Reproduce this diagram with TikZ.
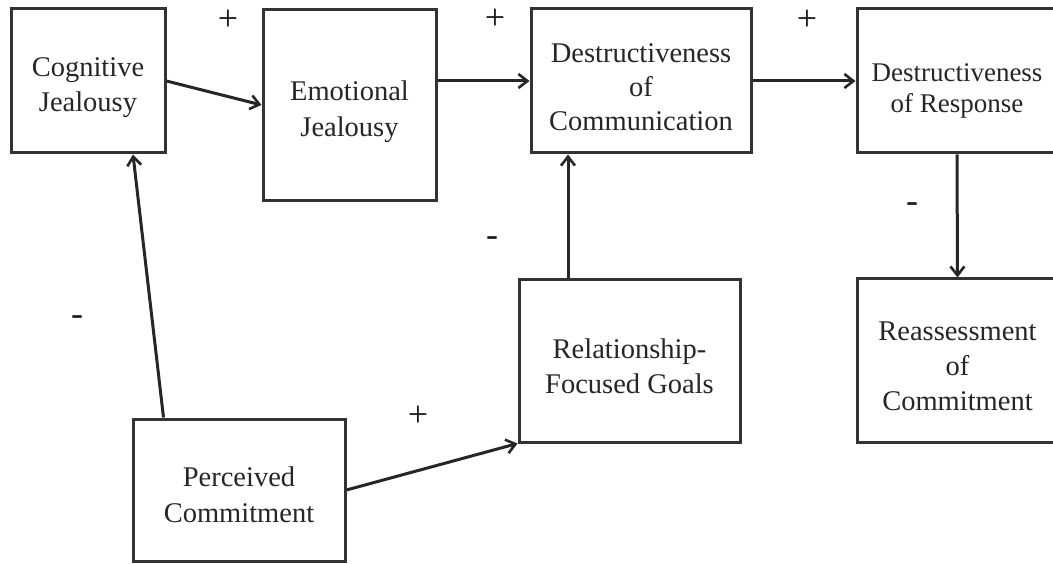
\documentclass[tikz,border=0pt]{standalone}
\usepackage{fontspec}
\setmainfont{Liberation Serif}
\usetikzlibrary{arrows.meta}
\newcommand{\tstrut}[1]{\rule{0pt}{#1}}
\begin{document}
\begin{tikzpicture}[x=1pt,y=-1pt,
  box/.style={draw=black!80,line width=3pt,rectangle,align=center,inner sep=0pt,
    font=\fontsize{28.5}{35}\selectfont,text=black!85},
  conn/.style={draw=black!85,line width=3pt,-{Straight Barb[length=9pt,width=14pt,line width=2.6pt]}},
  plus/.style={font=\fontsize{36}{36}\selectfont,text=black!90,inner sep=0pt},
  minus/.style={font=\fontsize{36}{36}\selectfont,text=black!90,inner sep=0pt}]
\useasboundingbox (0,0) rectangle (1053,564);
\begin{scope}
\clip (0,0) rectangle (1053,564);
\node[box,minimum width=154pt,minimum height=144pt] (cj) at (88,81) {\tstrut{33pt}Cognitive\\Jealousy};
\node[box,minimum width=173pt,minimum height=191pt,font=\fontsize{28.5}{36}\selectfont] (ej) at (349.5,105) {\tstrut{33pt}Emotional\\Jealousy};
\node[box,minimum width=220pt,minimum height=144pt,font=\fontsize{28.5}{34}\selectfont] (dc) at (641,81) {\tstrut{31pt}Destructiveness\\of\\Communication};
\node[box,minimum width=200pt,minimum height=144pt,font=\fontsize{27}{31}\selectfont] (dr) at (957,81) {\tstrut{38pt}Destructiveness\\of Response};
\node[box,minimum width=221pt,minimum height=162pt] (rfg) at (629.5,361) {\tstrut{30pt}Relationship-\\Focused Goals};
\node[box,minimum width=201pt,minimum height=163pt] (ra) at (957.5,360.5) {\tstrut{31pt}Reassessment\\of\\Commitment};
\node[box,minimum width=212pt,minimum height=142pt,font=\fontsize{28.5}{36}\selectfont] (pc) at (239,490) {\tstrut{30pt}Perceived\\Commitment};
\end{scope}
\draw[conn] (cj.east) -- (ej.west);
\draw[conn] (ej.east |- dc.west) -- (dc.west);
\draw[conn] (dc.east) -- (dr.west);
\draw[conn] (dr.south) -- (ra.north);
\coordinate (rfgtop) at ([xshift=-61.5pt]rfg.north);
\draw[conn] (rfgtop) -- (rfgtop |- dc.south);
\coordinate (pctop) at ([xshift=32pt]pc.north west);
\coordinate (cjbot) at ([xshift=45pt]cj.south);
\draw[conn] (pctop) -- (cjbot);
\draw[conn] (pc.east) -- (rfg.south west);
\node[plus] (s1) at (228,20) {+};
\node[plus] (s2) at (495,19) {+};
\node[plus] (s3) at (807,20) {+};
\node[plus] (s4) at (418,416) {+};
\node[minus] (m1) at (77,321) {-};
\node[minus] (m2) at (492,242) {-};
\node[minus] (m3) at (912,208) {-};
\end{tikzpicture}
\end{document}
